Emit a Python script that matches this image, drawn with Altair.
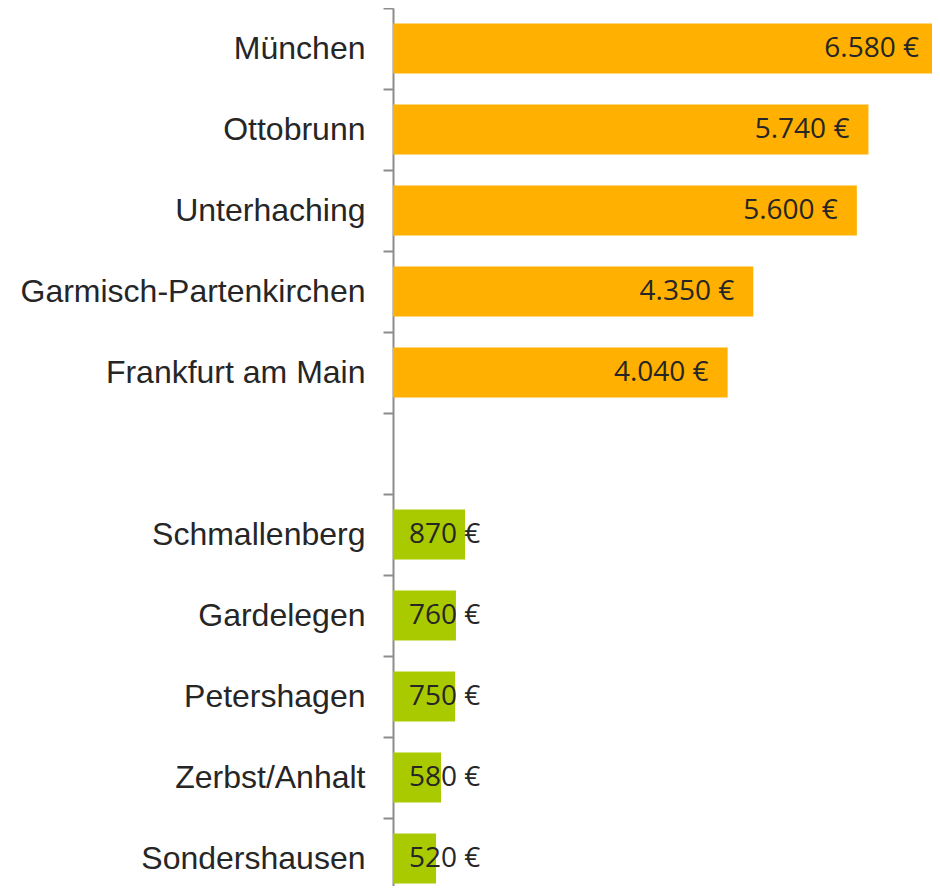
import altair as alt
import pandas as pd

cities = ["München", "Ottobrunn", "Unterhaching", "Garmisch-Partenkirchen",
          "Frankfurt am Main", "Schmallenberg", "Gardelegen", "Petershagen",
          "Zerbst/Anhalt", "Sondershausen"]
values = [6580, 5740, 5600, 4350, 4040, 870, 760, 750, 580, 520]
groups = ["teuer"] * 5 + ["günstig"] * 5
gap_label = " "

domain = cities[:5] + [gap_label] + cities[5:]

df = pd.DataFrame({
    "city": cities,
    "value": values,
    "group": groups,
    "label": [f"{v:,}".replace(",", ".") + " €" for v in values],
})

y = alt.Y("city:N", sort=domain,
          scale=alt.Scale(domain=domain, paddingInner=0.38, paddingOuter=0.19,
                          range=[0, 891]),
          axis=alt.Axis(title=None, tickSize=10, tickWidth=2,
                        tickOffset=-40.5, labelOffset=40.5,
                        tickColor="#8c8c8c", domainColor="#8c8c8c", domainWidth=2,
                        labelFont="Liberation Sans", labelFontSize=32,
                        labelColor="#262626", labelPadding=18, labelLimit=400))
x = alt.X("value:Q", scale=alt.Scale(domain=[0, 6580], nice=False, range=[0, 545]),
          axis=None)

bars = alt.Chart(df).mark_bar().encode(
    y=y, x=x,
    color=alt.Color("group:N", scale=alt.Scale(domain=["teuer", "günstig"],
                                               range=["#FFB000", "#AACA00"]),
                    legend=None),
)

big = alt.Chart(df).transform_filter("datum.value > 2000").mark_text(
    align="right", baseline="middle", dx=-19, font="Open Sans", fontSize=28,
    color="#262626").encode(y=y, x=x, text="label:N")

small = alt.Chart(df).transform_filter("datum.value <= 2000").mark_text(
    align="left", baseline="middle", dx=16, font="Open Sans", fontSize=28,
    color="#262626").encode(y=y, x=alt.datum(0), text="label:N")

chart = alt.layer(bars, big, small).properties(
    width=539, height=878,
    padding={"left": 385, "top": 0, "right": 0, "bottom": 0},
    autosize=alt.AutoSizeParams(type="none"),
).configure_view(stroke=None)

chart.save("out.html", embed_options={"renderer": "svg", "actions": False})
